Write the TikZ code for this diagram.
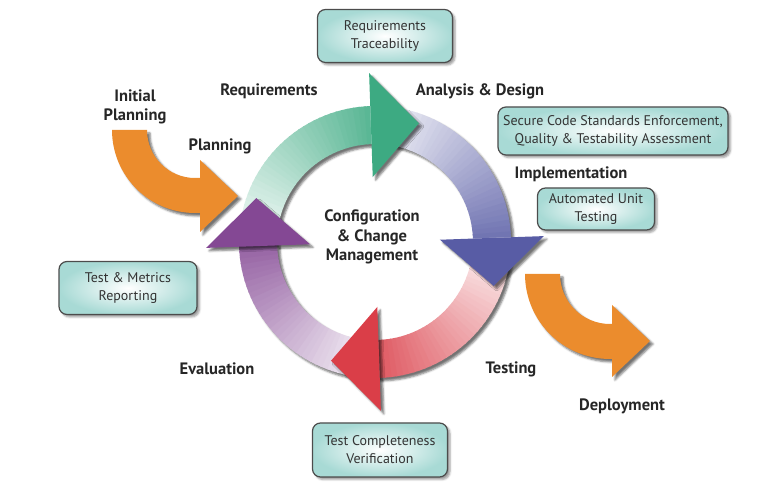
\documentclass[tikz,border=0pt]{standalone}
\usepackage{fontspec}
\setmainfont{PT Sans}
\usetikzlibrary{shadows.blur}
\definecolor{grn}{HTML}{3DAA82}\definecolor{blu}{HTML}{585CA5}\definecolor{rd}{HTML}{DA3E48}
\definecolor{pur}{HTML}{844894}\definecolor{org}{HTML}{EB8C2D}\definecolor{boxteal}{HTML}{A8DAD5}
\begin{document}
\begin{tikzpicture}[x=1pt,y=1pt,phase/.style={font=\fontsize{16.5}{19.5}\selectfont\bfseries,align=center,text=black!85},
  infobox/.style={draw=black!70,line width=1.2pt,rounded corners=8pt,inner color=white,outer color=boxteal,align=center,font=\fontsize{14}{18}\selectfont,text=black!80,blur shadow={shadow xshift=2.5pt,shadow yshift=-2.5pt,shadow blur steps=4}},
  dropshade/.style={blur shadow={shadow xshift=3pt,shadow yshift=-3pt,shadow blur steps=4,shadow opacity=55}}]
\useasboundingbox (0,0) rectangle (779,489);
\begin{scope}[shift={(375,247)}]
\foreach \ang in {92,2,-88,182}
  \path[dropshade] (\ang+90:136) arc[start angle=\ang+90,end angle=\ang,radius=136] -- (\ang:98) arc[start angle=\ang,end angle=\ang+90,radius=98] -- cycle;
\foreach \ang/\col in {92/grn,2/blu,-88/rd,182/pur}
  \foreach \i in {0,...,35}{
    \pgfmathsetmacro\angA{\ang+90-2.5*\i}\pgfmathsetmacro\angB{\angA-3.2}\pgfmathtruncatemacro\mix{3+82*\i/35}
    \fill[\col!\mix!white] (\angA:136) arc[start angle=\angA,end angle=\angB,radius=136] -- (\angB:98) arc[start angle=\angB,end angle=\angA,radius=98] -- cycle;}
\foreach \ang/\col in {92/grn,2/blu,-88/rd,182/pur}
  \fill[\col,dropshade] (\ang:65) -- (\ang:169) -- ({\ang-22.3}:126.5) -- cycle;
\end{scope}
\fill[org,dropshade] (147,359) -- (112,359) arc[start angle=180,end angle=270,radius=83] -- (200,276) -- (200,257) -- (238,293) -- (200,329) -- (200,311) -- (195,311) arc[start angle=270,end angle=180,radius=48] -- cycle;
\fill[org,dropshade] (560,215) -- (525,215) arc[start angle=180,end angle=270,radius=85] -- (612,130) -- (612,112) -- (650,148) -- (612,184) -- (612,165) -- (610,165) arc[start angle=270,end angle=180,radius=50] -- cycle;
\node[phase] (core) at (372,252) {Configuration\\\& Change\\Management};
\node[phase] (init) at (135,382) {Initial\\Planning};
\node[phase] (plan) at (220,343) {Planning};
\node[phase] (req) at (269,398) {Requirements};
\node[phase] (design) at (480,398) {Analysis \& Design};
\node[phase] (impl) at (571,315) {Implementation};
\node[phase] (eval) at (217,120) {Evaluation};
\node[phase] (test) at (511,120) {Testing};
\node[phase] (deploy) at (622,83) {Deployment};
\node[infobox,minimum width=135,minimum height=53] (trace) at (385,453) {Requirements\\Traceability};
\node[infobox,minimum width=230,minimum height=48] (secure) at (613,358) {Secure Code Standards Enforcement,\\Quality \& Testability Assessment};
\node[infobox,minimum width=117,minimum height=42] (unit) at (596,280) {Automated Unit\\Testing};
\node[infobox,minimum width=138,minimum height=53] (metrics) at (128,201) {Test \& Metrics\\Reporting};
\node[infobox,minimum width=135,minimum height=54] (complete) at (380,39) {Test Completeness\\Verification};
\end{tikzpicture}
\end{document}
